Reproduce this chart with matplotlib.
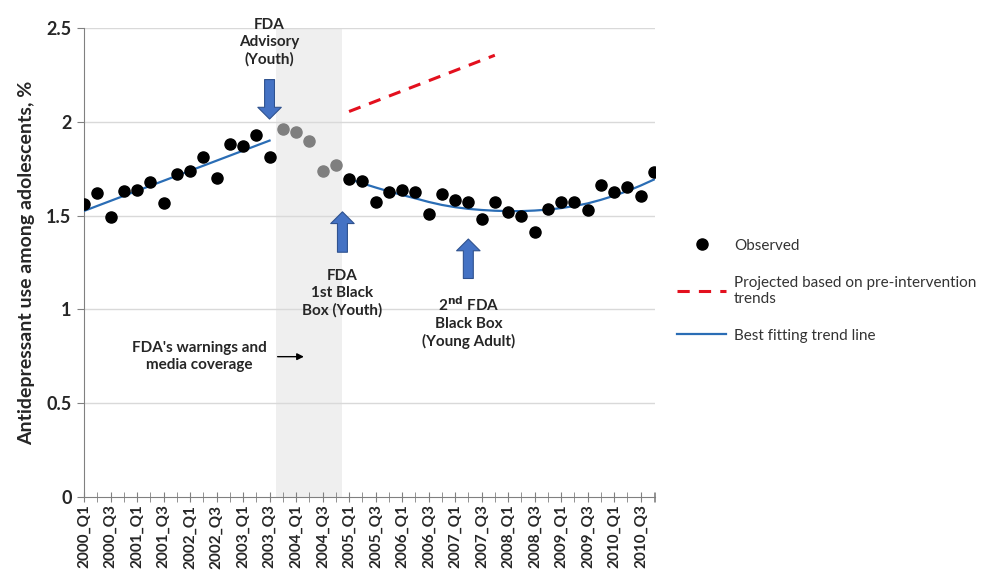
import matplotlib
matplotlib.use("Agg")
import matplotlib.pyplot as plt
from matplotlib.lines import Line2D
import numpy as np

plt.rcParams['font.family'] = ['Lato', 'DejaVu Sans']

# quarters 2000_Q1 .. 2010_Q4
quarters = [f"{y}_Q{q}" for y in range(2000, 2011) for q in range(1, 5)]
observed = [1.56, 1.62, 1.49, 1.63, 1.635, 1.68, 1.565, 1.72, 1.74, 1.81,
            1.70, 1.88, 1.87, 1.93, 1.81, 1.96, 1.945, 1.90, 1.74, 1.77,
            1.695, 1.685, 1.57, 1.625, 1.635, 1.625, 1.51, 1.615, 1.585, 1.575,
            1.48, 1.575, 1.52, 1.50, 1.415, 1.535, 1.57, 1.575, 1.53, 1.665,
            1.625, 1.655, 1.605, 1.735]
gray_idx = [15, 16, 17, 18, 19]   # points inside the warning period

pre_trend_x = [0, 14]
pre_trend_y = [1.525, 1.90]
proj_x = [20, 31]
proj_y = [2.055, 2.355]
post_trend_x = list(range(20, 44))
post_trend_y = [1.695, 1.672, 1.650, 1.629, 1.610, 1.592, 1.573, 1.557, 1.545, 1.536,
                1.530, 1.526, 1.524, 1.524, 1.527, 1.532, 1.540, 1.551, 1.565, 1.584,
                1.606, 1.631, 1.660, 1.692]
shade = (14.5, 19.5)

fig = plt.figure(figsize=(9.83, 5.84), dpi=100)
ax = fig.add_axes([0.0855, 0.149, 0.581, 0.803])

x = np.arange(len(quarters))
obs = np.array(observed)
black = [i for i in x if i not in gray_idx]

ax.axvspan(shade[0], shade[1], color='#efefef', zorder=0, lw=0)
for v in [0.5, 1, 1.5, 2, 2.5]:
    ax.axhline(v, color='#d9d9d9', lw=1, zorder=1)

ax.plot(pre_trend_x, pre_trend_y, color='#2a6db5', lw=1.6, zorder=3)
ax.plot(post_trend_x, post_trend_y, color='#2a6db5', lw=1.6, zorder=3)
ax.plot(proj_x, proj_y, color='#e3101e', lw=2.2, ls=(0, (4, 3)), zorder=3)
ax.plot(x[black], obs[black], 'o', color='black', ms=8, zorder=4)
ax.plot(x[gray_idx], obs[gray_idx], 'o', color='#7f7f7f', ms=8, zorder=4)

ax.set_xlim(0, 43.1)
ax.set_ylim(0, 2.5)
ax.set_yticks([0, 0.5, 1, 1.5, 2, 2.5])
ax.set_yticklabels(['0', '0.5', '1', '1.5', '2', '2.5'], fontsize=13, fontweight='bold', color='#262626')
ax.set_xticks(x[::2])
ax.set_xticklabels(quarters[::2], rotation=90, fontsize=11, fontweight='bold', color='#262626')
ax.set_xticks(list(x) + [43.1], minor=True)
ax.tick_params(axis='x', which='both', direction='inout', length=7, color='#808080', pad=2)
ax.tick_params(axis='y', direction='out', length=5, color='#808080', pad=4)
for s in ['top', 'right']:
    ax.spines[s].set_visible(False)
ax.spines['left'].set_color('#808080')
ax.spines['bottom'].set_color('#808080')
ax.set_ylabel('Antidepressant use among adolescents, %', fontsize=14, fontweight='bold',
              color='#262626', labelpad=8)

bold = dict(fontsize=11, fontweight='bold', color='#262626', ha='center', va='center',
            linespacing=1.25)
arrow = dict(arrowstyle='simple,head_length=0.65,head_width=1.3,tail_width=0.55',
             fc='#4472c4', ec='#2f528f', lw=0.8, mutation_scale=13)

ax.text(14, 2.425, 'FDA\nAdvisory\n(Youth)', clip_on=False, **bold)
ax.annotate('', xy=(14, 2.0), xytext=(14, 2.24), arrowprops=arrow, annotation_clip=False)

ax.text(19.5, 1.087, 'FDA\n1st Black\nBox (Youth)', **bold)
ax.annotate('', xy=(19.5, 1.535), xytext=(19.5, 1.29), arrowprops=arrow)

ax.text(29, 0.93, '2$^{\\mathbf{nd}}$ FDA\nBlack Box\n(Young Adult)', **bold)
ax.annotate('', xy=(29, 1.39), xytext=(29, 1.15), arrowprops=arrow)

ax.text(8.7, 0.748, "FDA's warnings and\nmedia coverage", **bold)
ax.annotate('', xy=(16.8, 0.748), xytext=(14.4, 0.748),
            arrowprops=dict(arrowstyle='-|>', color='black', lw=1, mutation_scale=10))

handles = [Line2D([], [], ls='none', marker='o', color='black', ms=8),
           Line2D([], [], color='#e3101e', lw=2.2, ls=(0, (4, 3))),
           Line2D([], [], color='#2a6db5', lw=1.6)]
labels = ['Observed', 'Projected based on pre-intervention\ntrends', 'Best fitting trend line']
leg = ax.legend(handles, labels, loc='center left', bbox_to_anchor=(1.015, 0.44),
                frameon=False, fontsize=11, labelspacing=1.5, handlelength=3.2,
                handletextpad=0.5)
for t in leg.get_texts():
    t.set_color('#333333')

fig.savefig('out.png', dpi=100)
